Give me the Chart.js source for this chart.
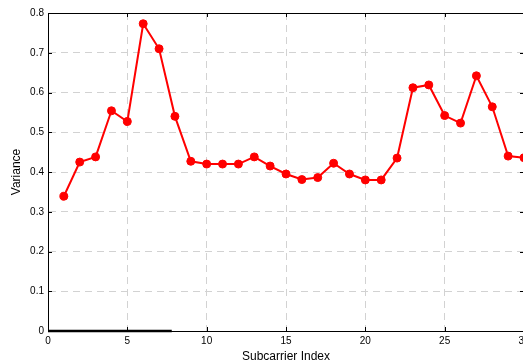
<!DOCTYPE html>
<html>
<head>
<meta charset="utf-8">
<script src="https://cdn.jsdelivr.net/npm/chart.js@4/dist/chart.umd.min.js"></script>
<style>
  html, body { margin: 0; padding: 0; background: #fff; overflow: hidden; }
  #wrap { position: absolute; left: 0; top: 0; width: 540px; height: 363px; }
</style>
</head>
<body>
<div id="wrap"><canvas id="c"></canvas></div>
<script>
// Subcarrier indices and their measured variance
const subcarriers = [1,2,3,4,5,6,7,8,9,10,11,12,13,14,15,16,17,18,19,20,21,22,23,24,25,26,27,28,29,30];
const variance = [0.339,0.425,0.438,0.554,0.527,0.773,0.710,0.540,0.427,0.420,0.420,0.420,0.438,0.415,0.395,0.381,0.386,0.422,0.395,0.380,0.380,0.435,0.612,0.619,0.542,0.523,0.642,0.564,0.440,0.436];

// Short baseline trace along the bottom axis
const baseX = [0, 7.8];
const baseY = [0, 0];

// Axis ticks
const xTicks = [0, 5, 10, 15, 20, 25, 30];
const yTicks = [0, 0.1, 0.2, 0.3, 0.4, 0.5, 0.6, 0.7, 0.8];
const yTickLabels = ['0', '0.1', '0.2', '0.3', '0.4', '0.5', '0.6', '0.7', '0.8'];

const mainPoints = subcarriers.map((x, i) => ({ x: x, y: variance[i] }));
const basePoints = baseX.map((x, i) => ({ x: x, y: baseY[i] }));

// Box frame with inward tick marks on all four sides
const boxTicks = {
  id: 'boxTicks',
  beforeDatasetsDraw(chart) {
    const { ctx, chartArea: a, scales } = chart;
    const len = 4;
    ctx.save();
    ctx.strokeStyle = '#000';
    ctx.lineWidth = 1;
    ctx.beginPath();
    xTicks.forEach(v => {
      const px = Math.round(scales.x.getPixelForValue(v)) + 0.5;
      ctx.moveTo(px, a.bottom); ctx.lineTo(px, a.bottom - len);
      ctx.moveTo(px, a.top); ctx.lineTo(px, a.top + len);
    });
    yTicks.forEach(v => {
      const py = Math.round(scales.y.getPixelForValue(v)) + 0.5;
      ctx.moveTo(a.left, py); ctx.lineTo(a.left + len, py);
      ctx.moveTo(a.right, py); ctx.lineTo(a.right - len, py);
    });
    ctx.stroke();
    ctx.beginPath();
    ctx.rect(Math.round(a.left) + 0.5, Math.round(a.top) + 0.5,
             Math.round(a.right - a.left), Math.round(a.bottom - a.top));
    ctx.stroke();
    ctx.restore();
  }
};

const gridStyle = {
  color: '#d2d2d2',
  lineWidth: 1,
  drawTicks: false
};

new Chart(document.getElementById('c'), {
  type: 'line',
  data: {
    datasets: [
      {
        data: mainPoints,
        borderColor: '#ff0000',
        backgroundColor: '#ff0000',
        borderWidth: 2,
        pointRadius: 4,
        pointBackgroundColor: '#ff0000',
        pointBorderColor: '#ff0000',
        pointBorderWidth: 1,
        tension: 0,
        clip: false,
        order: 1
      },
      {
        data: basePoints,
        borderColor: '#000000',
        borderWidth: 2.5,
        pointRadius: 0,
        tension: 0,
        clip: false,
        order: 2
      }
    ]
  },
  options: {
    responsive: true,
    maintainAspectRatio: false,
    animation: false,
    devicePixelRatio: 1,
    layout: { padding: { left: 0, top: 13, right: 16, bottom: 0 } },
    plugins: { legend: { display: false }, tooltip: { enabled: false } },
    scales: {
      x: {
        type: 'linear',
        min: 0, max: 30,
        afterBuildTicks(scale) { scale.ticks = xTicks.map(v => ({ value: v })); },
        afterFit(scale) { scale.height = 32; },
        ticks: {
          color: '#000',
          font: { family: 'Liberation Sans, Arial, sans-serif', size: 10 },
          padding: 4,
          maxRotation: 0,
          callback: v => String(v)
        },
        grid: gridStyle,
        border: { display: true, color: '#000', width: 1, dash: [7, 5] },
        title: {
          display: true,
          text: 'Subcarrier Index',
          color: '#000',
          font: { family: 'Liberation Sans, Arial, sans-serif', size: 12, lineHeight: 1.0 },
          padding: { top: 0, bottom: 0 }
        }
      },
      y: {
        type: 'linear',
        min: 0, max: 0.8,
        afterBuildTicks(scale) { scale.ticks = yTicks.map(v => ({ value: v })); },
        afterFit(scale) { scale.width = 48; },
        ticks: {
          color: '#000',
          font: { family: 'Liberation Sans, Arial, sans-serif', size: 10 },
          padding: 4,
          callback: (v, i) => yTickLabels[i]
        },
        grid: gridStyle,
        border: { display: true, color: '#000', width: 1, dash: [7, 5] },
        title: {
          display: true,
          text: 'Variance',
          color: '#000',
          font: { family: 'Liberation Sans, Arial, sans-serif', size: 12 },
          padding: { top: 9, bottom: 0 }
        }
      }
    }
  },
  plugins: [boxTicks]
});
</script>
</body>
</html>
